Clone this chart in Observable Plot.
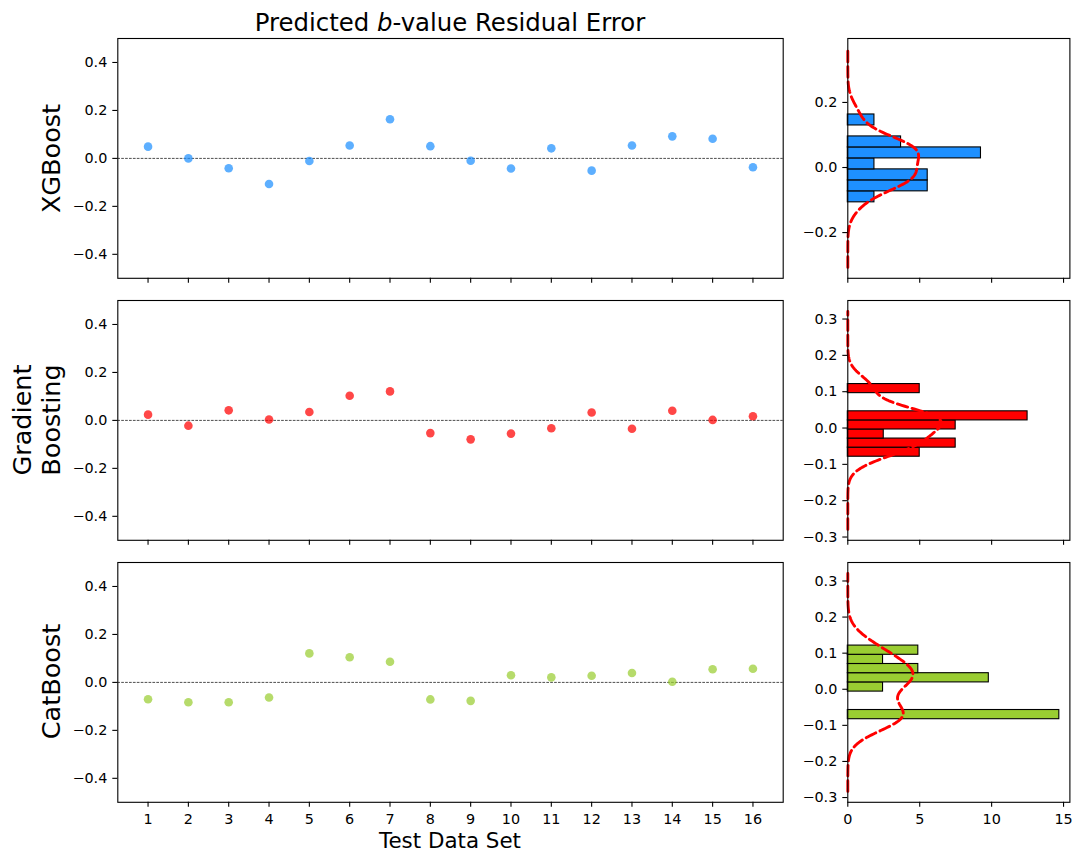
<!DOCTYPE html>
<html>
<head>
<meta charset="utf-8">
<script src="https://cdn.jsdelivr.net/npm/d3@7"></script>
<script src="https://cdn.jsdelivr.net/npm/@observablehq/plot@0.6"></script>
<style>
  body { margin: 0; background: #fff; }
  #chart { position: relative; width: 1074px; height: 857px; font-family: "DejaVu Sans", sans-serif; color: #000; overflow: hidden; }
  #chart svg { position: absolute; left: 0; background: transparent; }
  #chart svg text { font-family: "DejaVu Sans", sans-serif; font-size: 14.4px; fill: #000; }
  .lab { position: absolute; text-align: center; white-space: nowrap; color: #000; }
</style>
</head>
<body>
<div id="chart"></div>
<script>
// Test data set index on the x axis
const testSets = [1, 2, 3, 4, 5, 6, 7, 8, 9, 10, 11, 12, 13, 14, 15, 16];

// Residual error of the predicted b-value, one value per test data set
const xgbResiduals = [0.049, 0.000, -0.041, -0.107, -0.011, 0.054, 0.163, 0.051, -0.010, -0.042, 0.042, -0.051, 0.054, 0.092, 0.082, -0.037];
const gbResiduals  = [0.024, -0.022, 0.042, 0.004, 0.035, 0.103, 0.121, -0.053, -0.079, -0.055, -0.033, 0.033, -0.035, 0.040, 0.002, 0.017];
const cbResiduals  = [-0.070, -0.083, -0.083, -0.063, 0.121, 0.105, 0.086, -0.071, -0.077, 0.030, 0.021, 0.028, 0.039, 0.003, 0.055, 0.057];

const modelNames = [["XGBoost"], ["Gradient", "Boosting"], ["CatBoost"]];
const modelColors = ["#1E90FF", "#FF0000", "#9ACD32"];

// Tick values
const residualTicks = [-0.4, -0.2, 0, 0.2, 0.4];
const histResidualTicks = [
  [-0.2, 0, 0.2],
  [-0.3, -0.2, -0.1, 0, 0.1, 0.2, 0.3],
  [-0.3, -0.2, -0.1, 0, 0.1, 0.2, 0.3]
];
const densityTicks = [0, 5, 10, 15];

const series = [xgbResiduals, gbResiduals, cbResiduals];

// Histogram with equal-width bins between min and max, normalised to a density
function histogram(values, nBins = 8) {
  const lo = d3.min(values), hi = d3.max(values), w = (hi - lo) / nBins;
  const counts = new Array(nBins).fill(0);
  for (const v of values) counts[Math.min(nBins - 1, Math.floor((v - lo) / w))]++;
  return counts.map((c, i) => ({y1: lo + i * w, y2: lo + (i + 1) * w, density: c / (values.length * w)}));
}

// Gaussian kernel density estimate (Scott's rule), evaluated a little beyond the data range
function gaussianKde(values, pad = 0.2, n = 240) {
  const bw = d3.deviation(values) * Math.pow(values.length, -1 / 5);
  const lo = d3.min(values) - pad, hi = d3.max(values) + pad;
  const norm = bw * Math.sqrt(2 * Math.PI);
  return d3.range(n).map(i => {
    const y = lo + (hi - lo) * i / (n - 1);
    return {y, density: d3.mean(values, v => Math.exp(-0.5 * ((y - v) / bw) ** 2)) / norm};
  });
}

const hists = series.map(v => histogram(v));
const kdes = series.map(v => gaussianKde(v));
const densityMax = d3.max(hists.flat(), d => d.density) * 1.05;

// Layout of the panel grid
const W = 1074;
const rowTop = [38.3, 300, 561.7], rowH = 239.8;
const scatterL = 117.3, scatterR = 782.7, histL = 847.3, histR = 1069.4;
const padTop = 20, padBottom = 45;
const fmt1 = d3.format(".1f");
const chart = document.getElementById("chart");

const baseStyle = {background: "transparent", overflow: "visible", color: "black"};

function place(svg, top) {
  svg.style.top = top + "px";
  chart.append(svg);
}

series.forEach((values, r) => {
  const last = r === series.length - 1;
  const points = testSets.map((t, i) => ({set: t, residual: values[i]}));

  // Residual scatter panel
  const scatter = Plot.plot({
    width: W,
    height: rowH + padTop + padBottom,
    marginTop: padTop,
    marginBottom: padBottom,
    marginLeft: scatterL,
    marginRight: W - scatterR,
    style: baseStyle,
    x: {domain: [0.25, 16.75]},
    y: {domain: [-0.5, 0.5]},
    marks: [
      Plot.ruleY([0], {stroke: "black", strokeWidth: 0.7, strokeDasharray: "2.7,1.2"}),
      Plot.dot(points, {x: "set", y: "residual", r: 4.3, fill: modelColors[r], fillOpacity: 0.72}),
      Plot.frame({stroke: "black", strokeWidth: 1.1}),
      Plot.axisY({ticks: residualTicks, tickSize: 5, tickPadding: 5.5, tickFormat: fmt1, strokeWidth: 1.1, label: null}),
      Plot.axisX({ticks: testSets, tickSize: 5, tickPadding: 6, tickFormat: last ? (d => String(d)) : (() => ""), strokeWidth: 1.1, label: null})
    ]
  });
  place(scatter, rowTop[r] - padTop);

  // Residual distribution panel
  const kde = kdes[r];
  const yLo = d3.min(kde, d => d.y), yHi = d3.max(kde, d => d.y), span = yHi - yLo;
  const dist = Plot.plot({
    width: W,
    height: rowH + padTop + padBottom,
    marginTop: padTop,
    marginBottom: padBottom,
    marginLeft: histL,
    marginRight: W - histR,
    style: baseStyle,
    x: {domain: [0, densityMax]},
    y: {domain: [yLo - 0.05 * span, yHi + 0.05 * span]},
    marks: [
      Plot.rectX(hists[r], {x1: 0, x2: "density", y1: "y1", y2: "y2", fill: modelColors[r], stroke: "black", strokeWidth: 1.1, insetTop: 0, insetBottom: 0}),
      Plot.line(kde, {x: "density", y: "y", stroke: "#FF0000", strokeWidth: 2.9, strokeDasharray: "10.7,4.6"}),
      Plot.frame({stroke: "black", strokeWidth: 1.1}),
      Plot.axisY({ticks: histResidualTicks[r], tickSize: 5, tickPadding: 5.5, tickFormat: fmt1, strokeWidth: 1.1, label: null}),
      Plot.axisX({ticks: densityTicks, tickSize: 5, tickPadding: 6, tickFormat: last ? (d => String(d)) : (() => ""), strokeWidth: 1.1, label: null})
    ]
  });
  place(dist, rowTop[r] - padTop);
});

// Text labels around the grid
function addLabel(html, {cx, cy, size, lineHeight, rotate = false, width = 400}) {
  const el = document.createElement("div");
  el.className = "lab";
  el.innerHTML = html;
  const lines = html.split("<br>").length;
  const h = lineHeight * lines;
  el.style.fontSize = size + "px";
  el.style.lineHeight = lineHeight + "px";
  el.style.width = width + "px";
  el.style.height = h + "px";
  el.style.left = (cx - width / 2) + "px";
  el.style.top = (cy - h / 2) + "px";
  if (rotate) el.style.transform = "rotate(-90deg)";
  chart.append(el);
}

const cxScatter = (scatterL + scatterR) / 2;
addLabel("Predicted <i>b</i>-value Residual Error", {cx: cxScatter, cy: 22.2, size: 24.4, lineHeight: 25});
addLabel("Test Data Set", {cx: cxScatter, cy: 841.3, size: 21.4, lineHeight: 22});

modelNames.forEach((lines, r) => {
  const cy = rowTop[r] + rowH / 2;
  const cx = lines.length === 1 ? 51.2 : 37.4;
  addLabel(lines.join("<br>"), {cx, cy, size: 25.5, lineHeight: 29, rotate: true, width: 200});
});
</script>
</body>
</html>
